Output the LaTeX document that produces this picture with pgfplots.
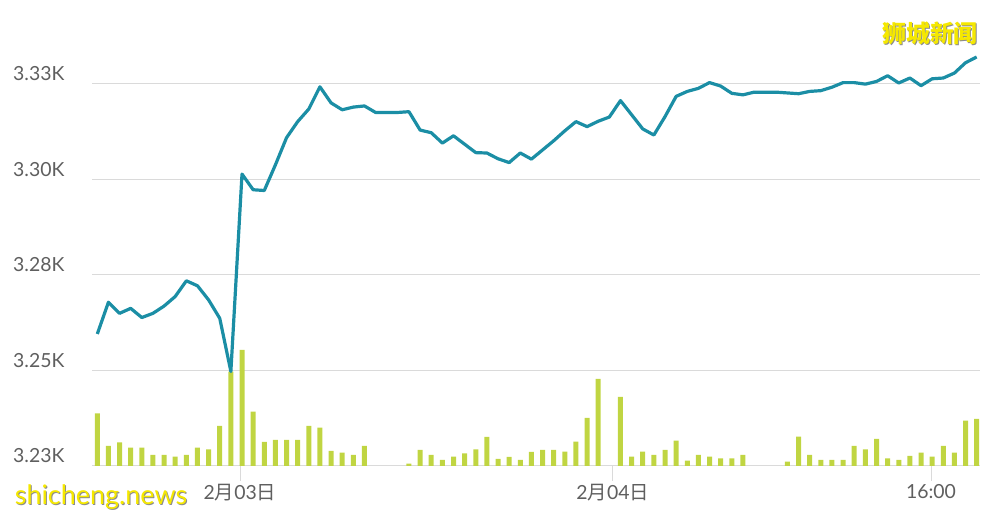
\documentclass[border=0pt]{standalone}
\usepackage{fontspec}
\usepackage{pgfplots}
\pgfplotsset{compat=1.18}
\setmainfont{Lato}
\newfontfamily\cjk{Noto Sans CJK SC}
\definecolor{lineblue}{RGB}{27,142,165}
\definecolor{bargreen}{RGB}{192,213,66}
\definecolor{gridgray}{RGB}{218,218,218}
\definecolor{labelgray}{RGB}{95,95,95}
\definecolor{wmyellow}{RGB}{245,232,0}
\begin{document}
\begin{tikzpicture}[x=1bp,y=1bp]
\path[use as bounding box] (0,0) rectangle (997,517);
\pgfplotsset{myaxis/.style={at={(92bp,51bp)}, anchor=south west, scale only axis,
  width=888bp, height=440bp, xmin=-0.476, xmax=79.3}}
% grid / labels axis
\begin{axis}[myaxis, ymin=3225, ymax=3340,
  ytick={3225,3250,3275,3300,3325},
  yticklabels={3.23K,3.25K,3.28K,3.30K,3.33K},
  ymajorgrids, grid style={gridgray, line width=1bp},
  axis x line*=bottom, axis y line*=left,
  y axis line style={draw=none},
  x axis line style={gridgray, line width=1bp, -},
  ytick style={draw=none},
  xtick={12.82,46.3,74.9},
  xticklabels={2{\cjk 月}03{\cjk 日}, 2{\cjk 月}04{\cjk 日}, 16:00},
  major tick length=15bp, tick align=outside,
  xtick style={gridgray, line width=1bp},
  yticklabel style={anchor=base west, inner sep=0pt, xshift=-64bp, yshift=3bp,
    font=\fontsize{19.5}{20}\selectfont, text=labelgray},
  xticklabel style={font=\fontsize{19.5}{20}\selectfont, text=labelgray},
  /pgf/number format/assume math mode=true]
\addplot[draw=none] coordinates {(0,3300)};
\end{axis}
% volume bars
\begin{axis}[myaxis, hide axis, ymin=0, ymax=440, ybar, bar width=5bp]
\addplot[fill=bargreen, draw=none] coordinates {
(0,52.7) (1,20) (2,23.7) (3,18.3) (4,18.3) (5,11) (6,11) (7,9.3) (8,11) (9,18.3)
(10,16.7) (11,40) (12,94.3) (13,116) (14,54.3) (15,24) (16,26) (17,26) (18,26) (19,40)
(20,38.3) (21,15) (22,13.3) (23,11) (24,20) (28,2.3) (29,16)
(30,11) (31,6) (32,9.3) (33,12.7) (34,16.7) (35,29) (36,7) (37,9) (38,6) (39,14)
(40,16) (41,16) (42,14.3) (43,24.3) (44,48) (45,87) (47,69) (48,9.3) (49,14.3)
(50,11) (51,16) (52,25.3) (53,5.3) (54,11) (55,9.3) (56,7.7) (57,7.7) (58,11)
(62,4.3) (63,29.3) (64,11) (65,6) (66,6) (67,6) (68,20) (69,16.7)
(70,27) (71,7.7) (72,6) (73,10) (74,13.3) (75,9.3) (76,20) (77,13.3) (78,45.3) (79,47)
};
\end{axis}
% price line
\begin{axis}[myaxis, hide axis, ymin=3225, ymax=3340]
\addplot[lineblue, line width=3.2bp, line join=round, mark=none] coordinates {
(0,3259.5) (1,3267.8) (2,3264.9) (3,3266.2) (4,3263.8) (5,3264.9) (6,3266.8) (7,3269.3) (8,3273.4) (9,3272.1)
(10,3268.4) (11,3263.6) (12,3249.7) (13,3301.3) (14,3297.2) (15,3297.0) (16,3303.7) (17,3310.8) (18,3315.0) (19,3318.3)
(20,3324.1) (21,3319.9) (22,3318.1) (23,3318.8) (24,3319.1) (25,3317.4) (26,3317.4) (27,3317.4) (28,3317.6) (29,3312.8)
(30,3312.1) (31,3309.4) (32,3311.3) (33,3309.1) (34,3306.9) (35,3306.8) (36,3305.3) (37,3304.3) (38,3306.8) (39,3305.2)
(40,3307.6) (41,3310.0) (42,3312.6) (43,3315.0) (44,3313.7) (45,3315.1) (46,3316.2) (47,3320.5) (48,3316.8) (49,3313.1)
(50,3311.5) (51,3316.3) (52,3321.6) (53,3322.9) (54,3323.7) (55,3325.2) (56,3324.3) (57,3322.4) (58,3322.0) (59,3322.7)
(60,3322.7) (61,3322.7) (62,3322.5) (63,3322.3) (64,3322.9) (65,3323.1) (66,3324.0) (67,3325.2) (68,3325.2) (69,3324.8)
(70,3325.5) (71,3327.0) (72,3325.1) (73,3326.4) (74,3324.4) (75,3326.2) (76,3326.4) (77,3327.7) (78,3330.4) (79,3331.9)
};
\end{axis}
% watermarks
\node[text=black!45] at (931,483) {\cjk\bfseries\fontsize{24}{24}\selectfont 狮城新闻};
\node[text=wmyellow] at (930,484) {\cjk\bfseries\fontsize{24}{24}\selectfont 狮城新闻};
\node[text=black!45] at (102,19) {\fontsize{27}{27}\selectfont shicheng.news};
\node[text=wmyellow] at (101,20) {\fontsize{27}{27}\selectfont shicheng.news};
\end{tikzpicture}
\end{document}
